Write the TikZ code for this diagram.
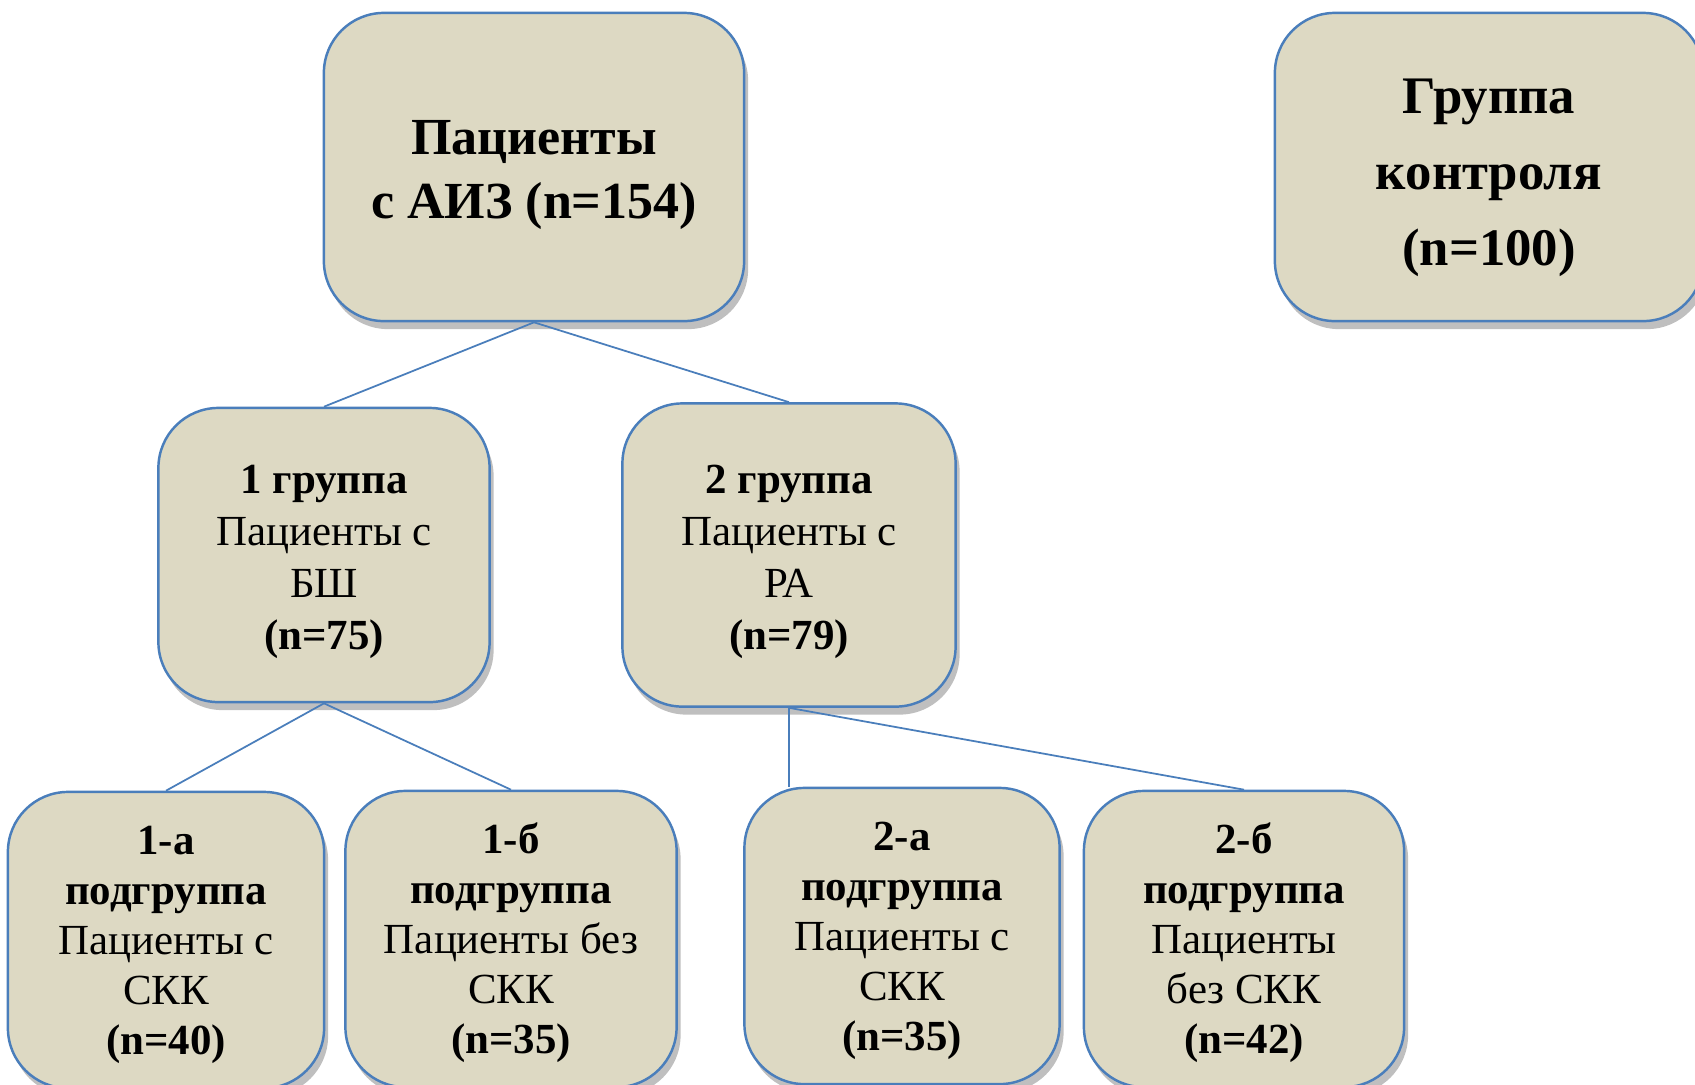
\documentclass[tikz,border=0pt]{standalone}
\usepackage{fontspec}
\setmainfont{Liberation Serif}
\usepackage{tikz}
\usetikzlibrary{calc, shadows}

\definecolor{boxfill}{HTML}{DDD9C3}
\definecolor{boxline}{HTML}{4A7EBB}

\newcommand{\topfont}{\fontsize{14.8}{18.2}\selectfont\bfseries}
\newcommand{\ctrlfont}{\fontsize{15}{21.6}\selectfont\bfseries}
\newcommand{\grpfont}{\fontsize{12.2}{14.8}\selectfont}
\newcommand{\subfont}{\fontsize{12.2}{14.2}\selectfont}
% first-line strut to lower the text block a little
\newcommand{\lift}[1]{\rule{0pt}{#1}}

\begin{document}
\begin{tikzpicture}[x=0.01cm, y=-0.01cm,
  box/.style={draw=boxline, line width=0.7pt, fill=boxfill, rounded corners=0.6cm,
    align=center, inner sep=0pt,
    drop shadow={shadow xshift=0.4mm, shadow yshift=-0.8mm, fill=black, opacity=0.25}},
  link/.style={draw=boxline, line width=0.5pt}]
  \useasboundingbox (0,0) rectangle (1695,1084);

  % main groups
  \node[box, minimum width=4.2cm, minimum height=3.08cm, font=\topfont] (aiz) at (534,167)
    {\lift{14pt}Пациенты\\с АИЗ (n=154)};
  \node[box, minimum width=4.28cm, minimum height=3.08cm, font=\ctrlfont] (ctrl) at (1489,167)
    {\lift{16pt}Группа\\контроля\\(n=100)};

  \node[box, minimum width=3.31cm, minimum height=2.94cm, font=\grpfont] (g1) at (324,555)
    {\lift{12pt}\textbf{1 группа}\\Пациенты с\\БШ\\\textbf{(n=75)}};
  \node[box, minimum width=3.33cm, minimum height=3.03cm, font=\grpfont] (g2) at (789,555)
    {\lift{12pt}\textbf{2 группа}\\Пациенты с\\РА\\\textbf{(n=79)}};

  % subgroups
  \node[box, minimum width=3.16cm, minimum height=2.96cm, font=\subfont] (s1a) at (166,940)
    {\lift{11pt}\textbf{1-а}\\\textbf{подгруппа}\\Пациенты с\\СКК\\\textbf{(n=40)}};
  \node[box, minimum width=3.31cm, minimum height=2.96cm, font=\subfont] (s1b) at (511,939)
    {\lift{11pt}\textbf{1-б}\\\textbf{подгруппа}\\Пациенты без\\СКК\\\textbf{(n=35)}};
  \node[box, minimum width=3.15cm, minimum height=2.96cm, font=\subfont] (s2a) at (902,936)
    {\lift{11pt}\textbf{2-а}\\\textbf{подгруппа}\\Пациенты с\\СКК\\\textbf{(n=35)}};
  \node[box, minimum width=3.2cm, minimum height=2.96cm, font=\subfont] (s2b) at (1244,939)
    {\lift{11pt}\textbf{2-б}\\\textbf{подгруппа}\\Пациенты\\без СКК\\\textbf{(n=42)}};

  \coordinate (s2atop) at (g2.south |- s2a.north);

  \draw[link] (aiz.south) -- (g1.north);
  \draw[link] (aiz.south) -- (g2.north);
  \draw[link] (g1.south) -- (s1a.north);
  \draw[link] (g1.south) -- (s1b.north);
  \draw[link] (g2.south) -- (s2atop);
  \draw[link] (g2.south) -- (s2b.north);
\end{tikzpicture}
\end{document}
